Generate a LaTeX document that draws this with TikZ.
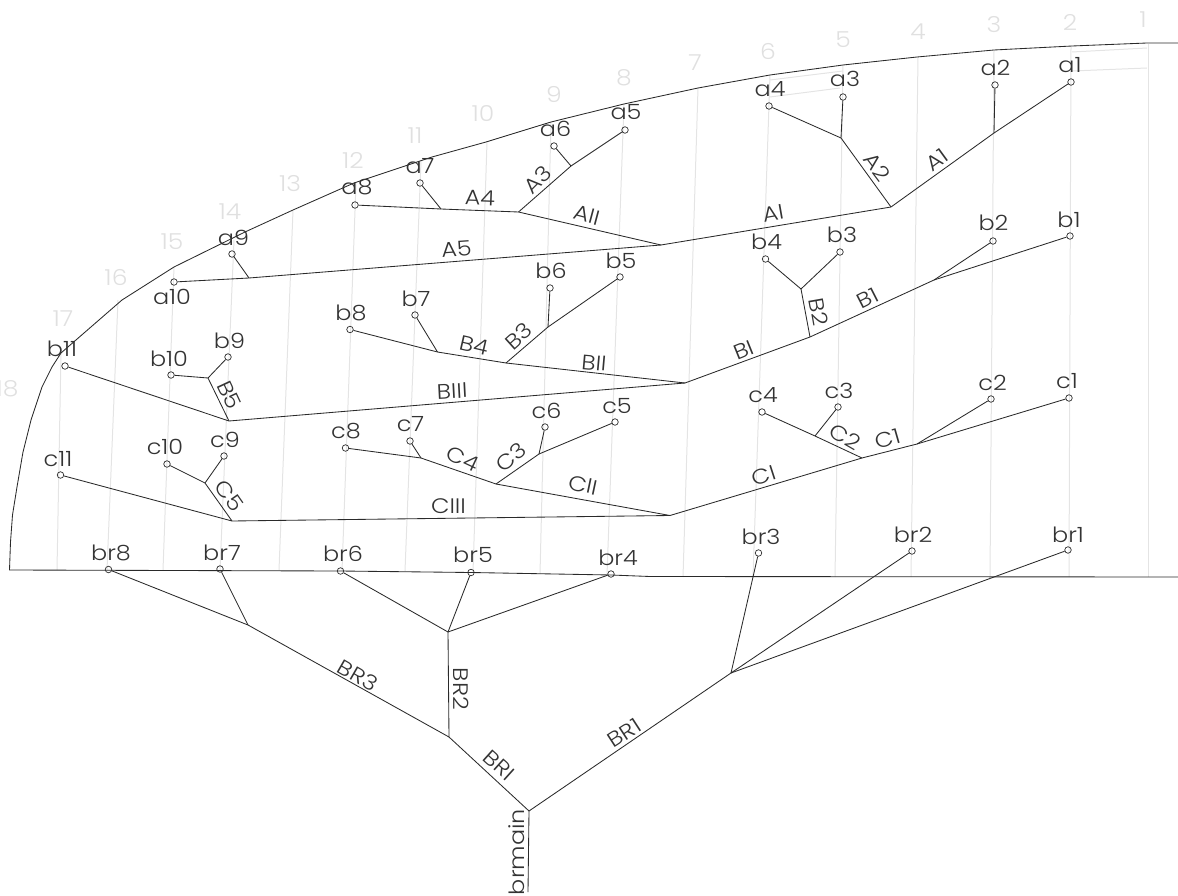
\documentclass[tikz,border=0pt]{standalone}
\usepackage{fontspec}
\setmainfont{Poppins Light}[FakeStretch=1.14]
\definecolor{wirec}{HTML}{2A2A2A}
\definecolor{stnc}{HTML}{E4E4E4}
\definecolor{numc}{HTML}{E0E0E0}
\definecolor{txtc}{HTML}{333333}
\tikzset{
  wire/.style={draw=wirec,line width=0.85pt,line join=round},
  stn/.style={draw=stnc,line width=1pt},
  pt/.style={circle,draw=wirec,line width=0.7pt,inner sep=0pt,minimum size=6.5pt},
  lab/.style={font=\fontsize{21}{21}\selectfont,text=txtc,anchor=base,inner sep=0pt},
  blab/.style={font=\fontsize{21}{21}\selectfont,text=txtc,anchor=center,inner sep=0pt},
  num/.style={font=\fontsize{22}{22}\selectfont,text=numc,anchor=center,inner sep=0pt},
}
\begin{document}
\begin{tikzpicture}[x=1pt,y=-1pt]
\useasboundingbox (0,0) rectangle (1178,896);
% station lines
\foreach \ax/\ay/\bx/\by in {1148/44/1148/577,1071/46/1069/577,994/50/990/577,918/57/911/577,843/65/835/577,770/75/753/577,698/88/683/577,624/104/607/575,551/122/540/574,487/142/473/572,421/161/405/571,356/183/342/571,293/210/279/570,234/240/220/570,174/267/163/570,118/300/107/570,61/353/57/570}
  \draw[stn] (\ax,\ay) -- (\bx,\by);
\draw[stn] (770,80) -- (843,71);
\draw[stn] (770,97) -- (840,88);
\draw[stn] (1072,52) -- (1147,48);
\draw[stn] (1072,71) -- (1147,68);
% station numbers
\foreach \n/\x/\y in {1/1143/20,2/1070/22,3/994/25,4/918/32,5/843/40,6/768/51,7/695/63,8/624/78,9/554/95,10/483/114,11/415/136,12/353/160,13/290/184,14/230/212,15/172/242,16/116/277,17/63/319,18/7/389}
  \node[num] (s\n) at (\x,\y) {\n};
% outline
\draw[wire] (1178,43) -- (1147,43) -- (1072,46) -- (994,50) -- (917,57) -- (843,65) -- (770,75) -- (698,88) -- (624,104) -- (551,122) -- (486,142) -- (432,157) -- (354,183) -- (293,210) -- (245,232) -- (174,267) -- (122,300) -- (61,353) -- (52,367) -- (42,387) -- (31,420) -- (23,452) -- (17,487) -- (12.5,515) -- (10.5,542) -- (9.5,570) -- (340,571) -- (471,572.5) -- (611,575) -- (650,576.5) -- (1178,577);
% end points with labels
\foreach \n/\t/\x/\y/\lx/\ly in {
 a1/a1/1071/82/1070/73, a2/a2/995/85/995.5/76, a3/a3/843/97/845/87, a4/a4/769/106/770/97,
 a5/a5/625/130/626/120, a6/a6/554/146/555.5/137, a7/a7/420/183/420/174, a8/a8/355/205/357/195,
 a9/a9/232/254/233.5/245, a10/a10/174/282/172/304,
 b1/b1/1070/236/1069/228, b2/b2/993/241/993.5/231, b3/b3/840/252/842/243, b4/b4/765.5/259/766.5/250,
 b5/b5/620/277/621/268, b6/b6/550/288/551/278, b7/b7/415/315/416/306, b8/b8/350/329.5/351/320,
 b9/b9/228/357/229.5/348, b10/b10/171/375/169/366, b11/b11/65/366/62/356,
 c1/c1/1069/398/1067/388, c2/c2/991/399/992.5/390, c3/c3/838/407/839/398, c4/c4/762/412/763/402,
 c5/c5/615/422/617/413, c6/c6/545/427/546.5/418, c7/c7/410/441/410.5/431, c8/c8/345.5/448/346/438,
 c9/c9/224/456/225/447, c10/c10/167/464/165/454, c11/c11/60.5/475/58/466,
 br1/br1/1068/550/1068/542, br2/br2/912/551/913/542, br3/br3/758.5/553/761/544, br4/br4/611/574/618/565,
 br5/br5/471/572.5/473/562, br6/br6/340.5/571/343/561, br7/br7/220/569/222/560, br8/br8/108.5/569.5/111/560}
{
  \node[pt] (\n) at (\x,\y) {};
  \node[lab] (t\n) at (\lx,\ly) {\t};
}
% junctions
\coordinate (ja1) at (994,133);
\coordinate (ja) at (891,207);
\coordinate (ja2) at (841,138);
\coordinate (jaii) at (661,245);
\coordinate (ja3) at (518.5,212);
\coordinate (ja5) at (571,166);
\coordinate (ja7) at (441,209);
\coordinate (ja9) at (249,278);
\coordinate (jb) at (685,383);
\coordinate (jb2) at (810,337);
\coordinate (jb1) at (934,280);
\coordinate (jb3) at (801,289);
\coordinate (jbii) at (506,363);
\coordinate (jb6) at (548,327);
\coordinate (jb7) at (437.5,352);
\coordinate (jbiii) at (229,421);
\coordinate (jb9) at (208,378);
\coordinate (jc) at (670,515.5);
\coordinate (jc1) at (917,444);
\coordinate (jc2) at (862,458);
\coordinate (jc3) at (815,436);
\coordinate (jcii) at (496,484);
\coordinate (jc6) at (539,454);
\coordinate (jc7) at (421,458);
\coordinate (jciii) at (232,521);
\coordinate (jc9) at (205,483);
\coordinate (jm) at (529,811);
\coordinate (mbot) at (528,892);
\coordinate (jr1) at (731,673);
\coordinate (jri) at (449,737);
\coordinate (jr2) at (448,632);
\coordinate (jr3) at (248,625);
% A tree
\draw[wire] (a1) -- (ja1) -- (ja) -- (jaii) -- (ja3) -- (ja7) -- (a8);
\draw[wire] (a2) -- (ja1);
\draw[wire] (ja) -- (ja2) -- (a3);
\draw[wire] (a4) -- (ja2);
\draw[wire] (ja3) -- (ja5) -- (a5);
\draw[wire] (a6) -- (ja5);
\draw[wire] (a7) -- (ja7);
\draw[wire] (jaii) -- (ja9) -- (a10);
\draw[wire] (a9) -- (ja9);
% B tree
\draw[wire] (b1) -- (jb1) -- (jb2) -- (jb) -- (jbii) -- (jb7) -- (b8);
\draw[wire] (b2) -- (jb1);
\draw[wire] (jb2) -- (jb3) -- (b3);
\draw[wire] (b4) -- (jb3);
\draw[wire] (jbii) -- (jb6) -- (b5);
\draw[wire] (b6) -- (jb6);
\draw[wire] (b7) -- (jb7);
\draw[wire] (jb) -- (jbiii) -- (b11);
\draw[wire] (jbiii) -- (jb9) -- (b9);
\draw[wire] (b10) -- (jb9);
% C tree
\draw[wire] (c1) -- (jc1) -- (jc2) -- (jc) -- (jcii) -- (jc7) -- (c8);
\draw[wire] (c2) -- (jc1);
\draw[wire] (jc2) -- (jc3) -- (c4);
\draw[wire] (c3) -- (jc3);
\draw[wire] (jcii) -- (jc6) -- (c5);
\draw[wire] (c6) -- (jc6);
\draw[wire] (c7) -- (jc7);
\draw[wire] (jc) -- (jciii) -- (c11);
\draw[wire] (jciii) -- (jc9) -- (c9);
\draw[wire] (c10) -- (jc9);
% BR tree
\draw[wire] (mbot) -- (jm) -- (jr1) -- (br1);
\draw[wire] (jr1) -- (br2);
\draw[wire] (jr1) -- (br3);
\draw[wire] (jm) -- (jri) -- (jr2) -- (br4);
\draw[wire] (jr2) -- (br5);
\draw[wire] (jr2) -- (br6);
\draw[wire] (jri) -- (jr3) -- (br8);
\draw[wire] (jr3) -- (br7);
% branch labels
\foreach \n/\t/\x/\y/\r in {
 lA1/A1/937/160/36, lA2/A2/877/167/-53, lAI/AI/773/213/10, lAII/AII/587/215/-15, lA3/A3/538/180/45, lA4/A4/480/198/-2, lA5/A5/456.5/249/4,
 lB1/B1/868/298/27, lB2/B2/818.5/312/-80, lBI/BI/744/350/22, lBII/BII/594/363/-5, lB3/B3/518.5/336/42, lB4/B4/474.5/345/-13, lBIII/BIII/452/391/3, lB5/B5/229.5/395/-65,
 lC1/C1/887.5/439/16, lC2/C2/845/437/-30, lCI/CI/764/476/18, lCII/CII/583/485/-12, lC3/C3/511/457/40, lC4/C4/463/459/-25, lCIII/CIII/448.5/506/0, lC5/C5/229.5/496/-55,
 lBR1/BR1/624/733/33, lBRI/BRI/499/765/-42, lBR2/BR2/461/689/-90, lBR3/BR3/358/675/-30, lmain/brmain/517/852/90}
  \node[blab,rotate=\r] (\n) at (\x,\y) {\t};
\end{tikzpicture}
\end{document}
